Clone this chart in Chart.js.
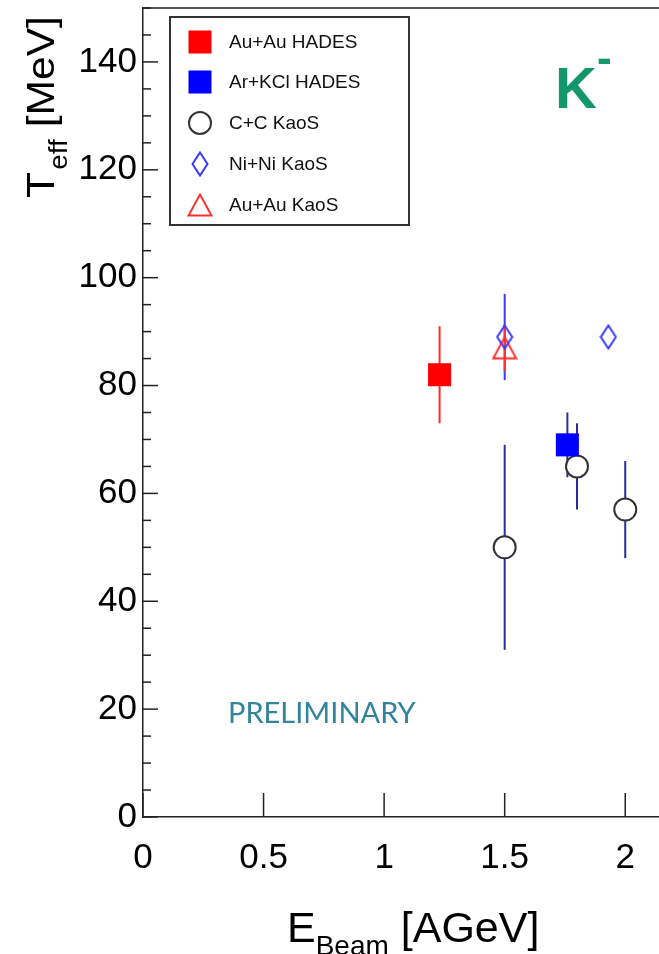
<!DOCTYPE html>
<html>
<head>
<meta charset="utf-8">
<script src="https://cdn.jsdelivr.net/npm/chart.js@4.4.0/dist/chart.umd.min.js"></script>
<style>
  body { margin: 0; background: #fff; }
  #wrap { width: 659px; height: 954px; }
</style>
</head>
<body>
<div id="wrap"><canvas id="myChart" width="659" height="954"></canvas></div>
<script>
// values: beam energy [AGeV], T_eff [MeV], error [MeV]
const auauHadesE = [1.23];
const auauHadesT = [82];
const auauHadesErr = [9];

const arkclHadesE = [1.76];
const arkclHadesT = [69];
const arkclHadesErr = [6];

const ccKaosE = [1.5, 1.8, 2.0];
const ccKaosT = [50, 65, 57];
const ccKaosErr = [19, 8, 9];

const niniKaosE = [1.5, 1.93];
const niniKaosT = [89, 89];
const niniKaosErr = [8, 0];

const auauKaosE = [1.5];
const auauKaosT = [87];
const auauKaosErr = [4.3];

const legendLabels = ['Au+Au HADES', 'Ar+KCl HADES', 'C+C KaoS', 'Ni+Ni KaoS', 'Au+Au KaoS'];

const xTicksStep = 0.5;
const yTicksStep = 20;
const yMinorStep = 5;

const FONT = '"Liberation Sans", Arial, Helvetica, sans-serif';

function toPoints(xs, ys) {
    return xs.map((x, i) => ({ x: x, y: ys[i] }));
}

// hollow markers that chart.js has no shape for
function diamondMarker() {
    let c = document.createElement('canvas');
    c.width = 18; c.height = 26;
    let g = c.getContext('2d');
    g.strokeStyle = '#3a3aff';
    g.lineWidth = 2;
    g.beginPath();
    g.moveTo(9, 1.5); g.lineTo(16.5, 13); g.lineTo(9, 24.5); g.lineTo(1.5, 13);
    g.closePath();
    g.stroke();
    return c;
}
function triangleMarker() {
    let c = document.createElement('canvas');
    c.width = 26; c.height = 24;
    let g = c.getContext('2d');
    g.strokeStyle = '#ff3030';
    g.lineWidth = 2;
    g.beginPath();
    g.moveTo(13, 1.5); g.lineTo(24.5, 22.5); g.lineTo(1.5, 22.5);
    g.closePath();
    g.stroke();
    return c;
}
const diamondImg = diamondMarker();
const triangleImg = triangleMarker();

const errorBars = {
    id: 'errorBars',
    beforeDatasetsDraw(chart) {
        const ctx = chart.ctx;
        const xs = chart.scales.x, ys = chart.scales.y;
        ctx.save();
        ctx.lineWidth = 2;
        chart.data.datasets.forEach(ds => {
            ds.data.forEach((p, i) => {
                const e = ds.errors[i];
                if (!e) return;
                const px = xs.getPixelForValue(p.x);
                ctx.strokeStyle = ds.errColor;
                ctx.beginPath();
                ctx.moveTo(px, ys.getPixelForValue(p.y + e));
                ctx.lineTo(px, ys.getPixelForValue(p.y - e));
                ctx.stroke();
            });
        });
        ctx.restore();
    }
};

const frame = {
    id: 'frame',
    afterDraw(chart) {
        const ctx = chart.ctx;
        const a = chart.chartArea;
        const xs = chart.scales.x, ys = chart.scales.y;
        ctx.save();
        ctx.strokeStyle = '#222';
        ctx.lineWidth = 1.5;
        // top line
        ctx.beginPath();
        ctx.moveTo(a.left, a.top);
        ctx.lineTo(a.right, a.top);
        ctx.stroke();
        // inward ticks on y
        for (let v = 0; v <= ys.max; v += yMinorStep) {
            const py = ys.getPixelForValue(v);
            const len = v % yTicksStep === 0 ? 15 : 8;
            ctx.beginPath();
            ctx.moveTo(a.left, py);
            ctx.lineTo(a.left + len, py);
            ctx.stroke();
        }
        // inward ticks on x
        for (let v = 0; v <= xs.max; v += xTicksStep) {
            const px = xs.getPixelForValue(v);
            ctx.beginPath();
            ctx.moveTo(px, a.bottom);
            ctx.lineTo(px, a.bottom - 24);
            ctx.stroke();
        }

        // axis titles with subscripts
        ctx.fillStyle = '#000';
        ctx.textBaseline = 'alphabetic';
        ctx.textAlign = 'left';
        let x = 287;
        ctx.font = '43px ' + FONT;
        ctx.fillText('E', x, 942);
        x += ctx.measureText('E').width;
        ctx.font = '28px ' + FONT;
        ctx.fillText('Beam', x, 955);
        x += ctx.measureText('Beam').width;
        ctx.font = '43px ' + FONT;
        ctx.fillText(' [AGeV]', x, 942);

        ctx.save();
        ctx.translate(54, 198);
        ctx.rotate(-Math.PI / 2);
        ctx.scale(1.12, 1);
        let t = 0;
        ctx.font = '38px ' + FONT;
        ctx.fillText('T', t, 0);
        t += ctx.measureText('T').width + 2;
        ctx.font = '25px ' + FONT;
        ctx.fillText('eff', t, 13);
        t += ctx.measureText('eff').width;
        ctx.font = '38px ' + FONT;
        ctx.fillText(' [MeV]', t, 0);
        ctx.restore();

        // legend box
        ctx.strokeStyle = '#333';
        ctx.lineWidth = 2;
        ctx.strokeRect(170, 17, 239, 208);
        const rows = [42, 82, 123, 164, 205];
        const mx = 200;
        ctx.fillStyle = '#ff0000';
        ctx.fillRect(mx - 11.5, rows[0] - 11.5, 23, 23);
        ctx.fillStyle = '#0000ff';
        ctx.fillRect(mx - 11.5, rows[1] - 11.5, 23, 23);
        ctx.strokeStyle = '#333';
        ctx.beginPath();
        ctx.arc(mx, rows[2], 11, 0, Math.PI * 2);
        ctx.stroke();
        ctx.drawImage(diamondImg, mx - 9, rows[3] - 13);
        ctx.drawImage(triangleImg, mx - 13, rows[4] - 12);
        ctx.fillStyle = '#111';
        ctx.font = '19px ' + FONT;
        ctx.textBaseline = 'middle';
        legendLabels.forEach((l, i) => ctx.fillText(l, 229, rows[i] + 1));

        // K- label
        ctx.textBaseline = 'alphabetic';
        ctx.fillStyle = '#14966c';
        ctx.font = 'bold 58px ' + FONT;
        ctx.fillText('K', 555, 108);
        ctx.font = 'bold 44px ' + FONT;
        ctx.fillText('-', 597, 73);

        // preliminary
        ctx.fillStyle = '#31849b';
        ctx.font = '29px Lato, "Open Sans", sans-serif';
        ctx.fillText('PRELIMINARY', 228, 723, 205);
        ctx.restore();
    }
};

let myChart = document.getElementById('myChart').getContext('2d');
let teffChart = new Chart(myChart, {
    type: 'scatter',
    data: {
        datasets: [{
            label: legendLabels[0],
            data: toPoints(auauHadesE, auauHadesT),
            errors: auauHadesErr,
            errColor: '#ff2a2a',
            pointStyle: 'rect',
            pointRadius: 16.3,
            backgroundColor: '#ff0000',
            borderColor: '#ff0000',
            borderWidth: 0
        }, {
            label: legendLabels[1],
            data: toPoints(arkclHadesE, arkclHadesT),
            errors: arkclHadesErr,
            errColor: '#2a2aa8',
            pointStyle: 'rect',
            pointRadius: 16.3,
            backgroundColor: '#0000ff',
            borderColor: '#0000ff',
            borderWidth: 0
        }, {
            label: legendLabels[2],
            data: toPoints(ccKaosE, ccKaosT),
            errors: ccKaosErr,
            errColor: '#2a2aa8',
            pointStyle: 'circle',
            pointRadius: 11,
            backgroundColor: '#ffffff',
            borderColor: '#333333',
            borderWidth: 2
        }, {
            label: legendLabels[3],
            data: toPoints(niniKaosE, niniKaosT),
            errors: niniKaosErr,
            errColor: '#3a3aff',
            pointStyle: diamondImg
        }, {
            label: legendLabels[4],
            data: toPoints(auauKaosE, auauKaosT),
            errors: auauKaosErr,
            errColor: '#ff3030',
            pointStyle: triangleImg
        }]
    },
    options: {
        responsive: false,
        animation: false,
        devicePixelRatio: 1,
        events: [],
        layout: { autoPadding: false, padding: { top: 8, right: 0, left: 0, bottom: 0 } },
        plugins: {
            legend: { display: false },
            tooltip: { enabled: false }
        },
        scales: {
            x: {
                type: 'linear',
                min: 0,
                max: 2.14,
                afterFit: s => {
                    s.height = 137;
                    s.paddingLeft = 0;
                    s.paddingRight = 0;
                },
                grid: { display: false, drawTicks: false },
                border: { display: true, color: '#222', width: 1.5 },
                ticks: {
                    stepSize: xTicksStep,
                    includeBounds: false,
                    autoSkip: false,
                    maxRotation: 0,
                    padding: 20,
                    color: '#000',
                    font: { family: FONT, size: 35 },
                    callback: v => String(Number(v))
                }
            },
            y: {
                min: 0,
                max: 150,
                afterFit: s => {
                    s.width = 143;
                    s.paddingTop = 0;
                    s.paddingBottom = 0;
                },
                grid: { display: false, drawTicks: false },
                border: { display: true, color: '#222', width: 1.5 },
                ticks: {
                    stepSize: yTicksStep,
                    includeBounds: false,
                    padding: 6,
                    color: '#000',
                    font: { family: FONT, size: 35 }
                }
            }
        }
    },
    plugins: [errorBars, frame]
});
</script>
</body>
</html>
